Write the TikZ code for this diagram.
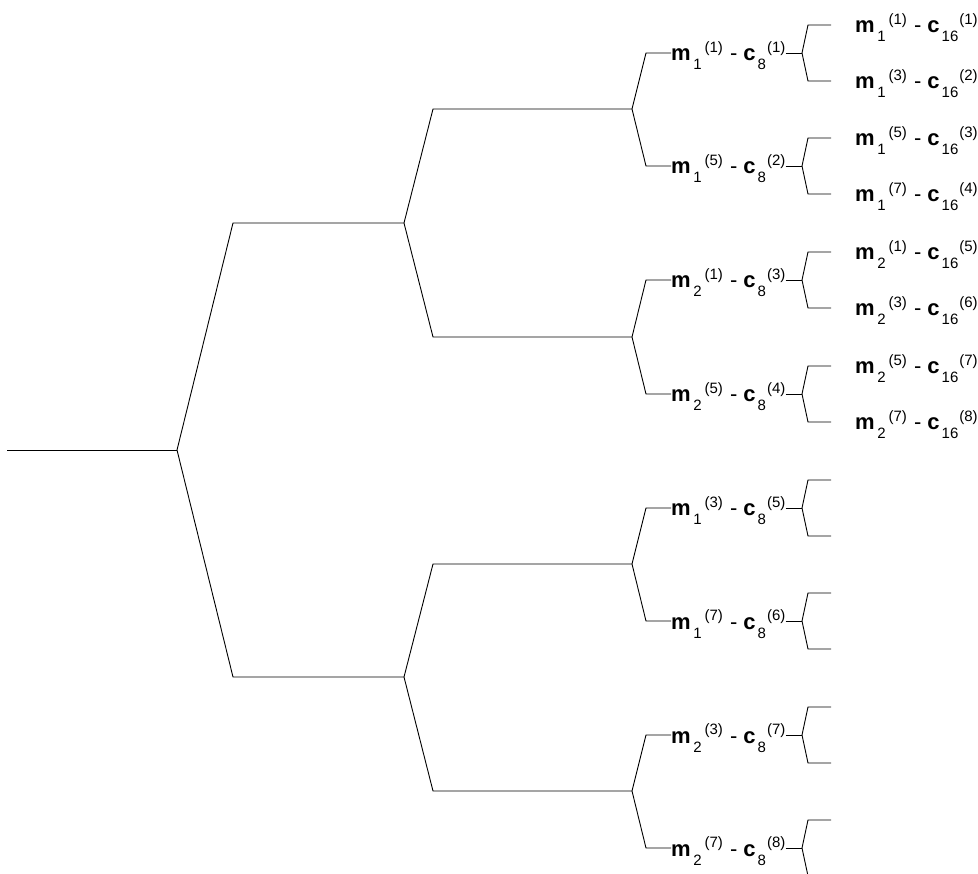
\documentclass[tikz,border=0pt]{standalone}
\usepackage{fontspec}
\setmainfont{Liberation Sans}
\usepackage{tikz}
\usetikzlibrary{positioning}
\newcommand{\scrfont}{\fontsize{15}{15}\selectfont}
\newcommand{\pairlbl}[4]{\textbf{m}\kern2.5pt\lower9pt\hbox{\scrfont #1}\kern3pt\raise8.5pt\hbox{\scrfont(#2)}\kern1pt{} - {}\textbf{c}\kern2pt\lower9pt\hbox{\scrfont #3}\kern1pt\raise8.5pt\hbox{\scrfont(#4)}}

\begin{document}
\begin{tikzpicture}[x=1pt, y=-1pt,
                    br/.style={line width=0.9pt, line join=miter},
                    lbl/.style={inner sep=0pt, anchor=west,
                                text height=18pt, text depth=2pt,
                                font=\fontsize{22}{24}\selectfont}
                ]
                    \useasboundingbox (0,0) rectangle (978,874);
                    % root and first split
                    \coordinate (r0) at (7,450);
                    \coordinate (r) at (177,450);
                    \coordinate (a) at (404,223);
                    \coordinate (b) at (404,677);
                    \draw[br] (r0) -- (r);
                    \draw[br] (r) -- ++(56,-227) -- (a);
                    \draw[br] (r) -- ++(56,227) -- (b);
                    % second split
                    \coordinate (aa) at (632,109);
                    \coordinate (ab) at (632,337);
                    \coordinate (ba) at (632,564);
                    \coordinate (bb) at (632,791);
                    \draw[br] (a) -- ++(29,-114) -- (aa);
                    \draw[br] (a) -- ++(29,114) -- (ab);
                    \draw[br] (b) -- ++(29,-113) -- (ba);
                    \draw[br] (b) -- ++(29,114) -- (bb);
                    % third split
                    \node[lbl] (p1) at (671,53) {\pairlbl{1}{1}{8}{1}};
                    \node[lbl] (p2) at (671,166) {\pairlbl{1}{5}{8}{2}};
                    \node[lbl] (p3) at (671,280) {\pairlbl{2}{1}{8}{3}};
                    \node[lbl] (p4) at (671,394) {\pairlbl{2}{5}{8}{4}};
                    \node[lbl] (p5) at (671,508) {\pairlbl{1}{3}{8}{5}};
                    \node[lbl] (p6) at (671,621) {\pairlbl{1}{7}{8}{6}};
                    \node[lbl] (p7) at (671,735) {\pairlbl{2}{3}{8}{7}};
                    \node[lbl] (p8) at (671,848) {\pairlbl{2}{7}{8}{8}};
                    \draw[br] (aa) -- ([xshift=-25pt]p1.west) -- (p1.west);
                    \draw[br] (aa) -- ([xshift=-25pt]p2.west) -- (p2.west);
                    \draw[br] (ab) -- ([xshift=-25pt]p3.west) -- (p3.west);
                    \draw[br] (ab) -- ([xshift=-25pt]p4.west) -- (p4.west);
                    \draw[br] (ba) -- ([xshift=-25pt]p5.west) -- (p5.west);
                    \draw[br] (ba) -- ([xshift=-25pt]p6.west) -- (p6.west);
                    \draw[br] (bb) -- ([xshift=-25pt]p7.west) -- (p7.west);
                    \draw[br] (bb) -- ([xshift=-25pt]p8.west) -- (p8.west);
                    \coordinate (k1) at (802,53);
                    \coordinate (k2) at (802,166);
                    \coordinate (k3) at (802,280);
                    \coordinate (k4) at (802,394);
                    \coordinate (k5) at (802,508);
                    \coordinate (k6) at (802,621);
                    \coordinate (k7) at (802,735);
                    \coordinate (k8) at (802,848);
                    \draw[br] (p1.east) -- (k1);
                    \draw[br] (p2.east) -- (k2);
                    \draw[br] (p3.east) -- (k3);
                    \draw[br] (p4.east) -- (k4);
                    \draw[br] (p5.east) -- (k5);
                    \draw[br] (p6.east) -- (k6);
                    \draw[br] (p7.east) -- (k7);
                    \draw[br] (p8.east) -- (k8);
                    % leaves
                    \node[lbl] (q1) at (855,25) {\pairlbl{1}{1}{16}{1}};
                    \node[lbl] (q2) at (855,81) {\pairlbl{1}{3}{16}{2}};
                    \node[lbl] (q3) at (855,138) {\pairlbl{1}{5}{16}{3}};
                    \node[lbl] (q4) at (855,194) {\pairlbl{1}{7}{16}{4}};
                    \node[lbl] (q5) at (855,252) {\pairlbl{2}{1}{16}{5}};
                    \node[lbl] (q6) at (855,308) {\pairlbl{2}{3}{16}{6}};
                    \node[lbl] (q7) at (855,366) {\pairlbl{2}{5}{16}{7}};
                    \node[lbl] (q8) at (855,422) {\pairlbl{2}{7}{16}{8}};
                    \draw[br] (k1) -- ([xshift=-47pt]q1.west) -- ([xshift=-24pt]q1.west);
                    \draw[br] (k1) -- ([xshift=-47pt]q2.west) -- ([xshift=-24pt]q2.west);
                    \draw[br] (k2) -- ([xshift=-47pt]q3.west) -- ([xshift=-24pt]q3.west);
                    \draw[br] (k2) -- ([xshift=-47pt]q4.west) -- ([xshift=-24pt]q4.west);
                    \draw[br] (k3) -- ([xshift=-47pt]q5.west) -- ([xshift=-24pt]q5.west);
                    \draw[br] (k3) -- ([xshift=-47pt]q6.west) -- ([xshift=-24pt]q6.west);
                    \draw[br] (k4) -- ([xshift=-47pt]q7.west) -- ([xshift=-24pt]q7.west);
                    \draw[br] (k4) -- ([xshift=-47pt]q8.west) -- ([xshift=-24pt]q8.west);
                    % open stubs below
                    \coordinate (s1) at (831,480);
                    \coordinate (s2) at (831,536);
                    \coordinate (s3) at (831,593);
                    \coordinate (s4) at (831,649);
                    \coordinate (s5) at (831,707);
                    \coordinate (s6) at (831,763);
                    \coordinate (s7) at (831,820);
                    \coordinate (s8) at (831,876);
                    \draw[br] (k5) -- ([xshift=-23pt]s1) -- (s1);
                    \draw[br] (k5) -- ([xshift=-23pt]s2) -- (s2);
                    \draw[br] (k6) -- ([xshift=-23pt]s3) -- (s3);
                    \draw[br] (k6) -- ([xshift=-23pt]s4) -- (s4);
                    \draw[br] (k7) -- ([xshift=-23pt]s5) -- (s5);
                    \draw[br] (k7) -- ([xshift=-23pt]s6) -- (s6);
                    \draw[br] (k8) -- ([xshift=-23pt]s7) -- (s7);
                    \draw[br] (k8) -- ([xshift=-23pt]s8) -- (s8);
                \end{tikzpicture}
\end{document}
